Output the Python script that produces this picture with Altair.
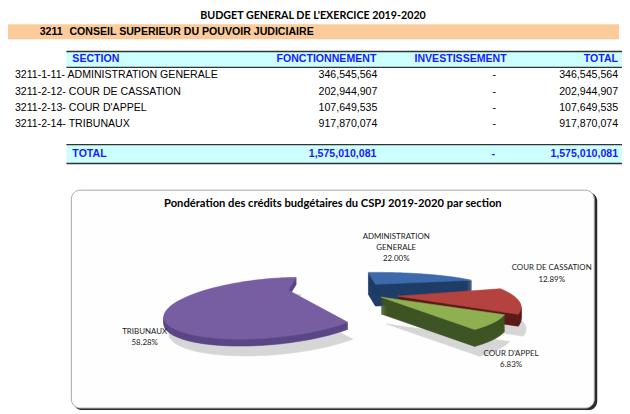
import pandas as pd
import altair as alt

codes = ["3211-1-11-", "3211-2-12-", "3211-2-13-", "3211-2-14-"]
sections = ["ADMINISTRATION GENERALE", "COUR DE CASSATION", "COUR D'APPEL", "TRIBUNAUX"]
fonctionnement = [346545564, 202944907, 107649535, 917870074]
investissement = [0, 0, 0, 0]
total_fonctionnement = 1575010081  # as printed in the source table
pie_labels = ["ADMINISTRATION\nGENERALE", "COUR DE CASSATION", "COUR D'APPEL", "TRIBUNAUX"]

W, H = 620, 404
ARIAL = "Liberation Sans"
CALIBRI = "Lato"
BLUE = "#1a1aff"

table = pd.DataFrame({"code": codes, "section": sections,
                      "fonct": fonctionnement, "invest": investissement})
table["total"] = table["fonct"] + table["invest"]
table["row"] = range(len(table))

totals = pd.DataFrame({"f": [total_fonctionnement], "inv": [sum(investissement)]})
totals["tt"] = totals["f"] + totals["inv"]

pie = pd.DataFrame({"section": sections, "label": pie_labels, "value": table["total"]})
share = pie["value"] / pie["value"].sum()
pie["s1"] = share.cumsum()
pie["s0"] = pie["s1"] - share

# page coordinates -> chart scales (8px page margin)
XS = alt.Scale(domain=[8, 8 + W], nice=False, zero=False)
YS = alt.Scale(domain=[8, 8 + H], nice=False, zero=False, reverse=True)


def v(p):
    return alt.value(p - 8)


def label(s, x, y, size=10.7, bold=False, color="black", align="left", font=ARIAL):
    return alt.Chart().mark_text(text=s, fontSize=size, fontWeight="bold" if bold else "normal",
                                 color=color, align=align, baseline="middle", font=font
                                 ).encode(x=v(x), y=v(y))


def box(x1, y1, x2, y2, **kw):
    return alt.Chart().mark_rect(**kw).encode(x=v(x1), x2=v(x2), y=v(y1), y2=v(y2))


def hline(y, x1, x2, color="#333333", width=1.4):
    return alt.Chart().mark_rule(color=color, strokeWidth=width).encode(x=v(x1), x2=v(x2), y=v(y))


# ---- table ----
layers = [
    label("BUDGET GENERAL DE L'EXERCICE 2019-2020", 316, 14, size=10.8, bold=True, align="center", font=CALIBRI),
    box(3, 22.5, 625, 37.5, color="#fbcb9b"),
    label("3211", 40, 30, bold=True),
    label("CONSEIL SUPERIEUR DU POUVOIR JUDICIAIRE", 70, 30, bold=True),
    box(67, 50, 640, 66, color="#ccffff"),
    hline(50, 67, 640), hline(66, 67, 640),
    label("SECTION", 73, 58, bold=True, color=BLUE),
    label("FONCTIONNEMENT", 380, 58, bold=True, color=BLUE, align="right"),
    label("INVESTISSEMENT", 465, 58, bold=True, color=BLUE, align="center"),
    label("TOTAL", 624, 58, bold=True, color=BLUE, align="right"),
    box(67, 144, 640, 163, color="#ccffff"),
    hline(144, 67, 640), hline(163, 67, 640),
    label("TOTAL", 73, 153, bold=True, color=BLUE),
]

rows = alt.Chart(table).transform_calculate(ry="74 + 16.5 * datum.row")
ry = alt.Y("ry:Q", scale=YS, axis=None)
layers += [
    rows.transform_calculate(t="datum.code + ' ' + datum.section")
        .mark_text(align="left", baseline="middle", fontSize=10.7, font=ARIAL)
        .encode(x=v(15), y=ry, text="t:N"),
    rows.transform_calculate(t="format(datum.fonct, ',')")
        .mark_text(align="right", baseline="middle", fontSize=10.7, font=ARIAL)
        .encode(x=v(381), y=ry, text="t:N"),
    rows.transform_calculate(t="datum.invest == 0 ? '-' : format(datum.invest, ',')")
        .mark_text(align="center", baseline="middle", fontSize=10.7, font=ARIAL)
        .encode(x=v(499), y=ry, text="t:N"),
    rows.transform_calculate(t="format(datum.total, ',')")
        .mark_text(align="right", baseline="middle", fontSize=10.7, font=ARIAL)
        .encode(x=v(624), y=ry, text="t:N"),
]

tot = alt.Chart(totals)
layers += [
    tot.transform_calculate(t="format(datum.f, ',')")
       .mark_text(align="right", baseline="middle", fontSize=10.7, font=ARIAL, fontWeight="bold", color=BLUE)
       .encode(x=v(380), y=v(153), text="t:N"),
    tot.transform_calculate(t="datum.inv == 0 ? '-' : format(datum.inv, ',')")
       .mark_text(align="center", baseline="middle", fontSize=10.7, font=ARIAL, fontWeight="bold", color=BLUE)
       .encode(x=v(498), y=v(153), text="t:N"),
    tot.transform_calculate(t="format(datum.tt, ',')")
       .mark_text(align="right", baseline="middle", fontSize=10.7, font=ARIAL, fontWeight="bold", color=BLUE)
       .encode(x=v(624), y=v(153), text="t:N"),
]

# ---- chart frame ----
layers += [
    alt.Chart().mark_rect(color="#2b2b2b", cornerRadius=9).encode(x=v(74), x2=v(603), y=v(192), y2=v(412)),
    alt.Chart().mark_rect(fill="#fefefe", stroke="#a8a8a8", strokeWidth=1, cornerRadius=9)
       .encode(x=v(72), x2=v(600), y=v(190), y2=v(410)),
    label("Pondération des  crédits budgétaires  du CSPJ 2019-2020 par section", 336, 204,
          size=11.3, bold=True, align="center", font=CALIBRI),
]

# ---- 3D exploded pie (perspective ellipse sectors) ----
N = 72
TH0 = -5 / 360


def pie_part(name, cx, cy, rx, ry, k, sh, dz, color, dx=0):
    return (alt.Chart(pie)
            .transform_filter(alt.datum.section == name)
            .transform_calculate(i=f"sequence(0, {N + 3})")
            .transform_calculate(dz=dz)
            .transform_flatten(["i"])
            .transform_flatten(["dz"])
            .transform_calculate(t=f"clamp(datum.i - 1, 0, {N}) / {N}")
            .transform_calculate(on=f"datum.i >= 1 && datum.i <= {N + 1}")
            .transform_calculate(a=f"2 * PI * ({TH0} + datum.s0 + (datum.s1 - datum.s0) * datum.t)")
            .transform_calculate(X="datum.on ? sin(datum.a) : 0")
            .transform_calculate(Z="datum.on ? cos(datum.a) : 0")
            .transform_calculate(den=f"1 + {k} * datum.Z")
            .transform_calculate(px=f"{cx + dx} + ({rx} * datum.X + {sh * ry} * datum.Z) / datum.den")
            .transform_calculate(py=f"{cy} + datum.dz - {ry} * datum.Z / datum.den")
            .mark_line(fill=color, stroke=color, strokeWidth=0.6)
            .encode(x=alt.X("px:Q", scale=XS, axis=None),
                    y=alt.Y("py:Q", scale=YS, axis=None),
                    order="i:Q", detail="dz:N"))


slices = {
    # name: centre x, centre y, rx, ry, perspective, skew, depth, top colour, side colour
    "ADMINISTRATION GENERALE": (379, 285, 110, 16, 0.333, 0, 22, "#3d6aaa", "#1f3d68"),
    "TRIBUNAUX": (291, 291, 84, 20.6, 0.583, 0.98, 7, "#775da2", "#5a4585"),
    "COUR DE CASSATION": (402, 297, 117, 30, 0.333, 0, 12, "#b4433f", "#5b1b19"),
    "COUR D'APPEL": (385, 298, 120, 29, 0.333, 0, 17, "#8eb050", "#3f5424"),
}

for name in ["TRIBUNAUX", "COUR D'APPEL", "COUR DE CASSATION"]:
    cx, cy, rx, ry_, k, sh, depth, top, side = slices[name]
    layers.append(pie_part(name, cx, cy, rx, ry_, k, sh, f"[{depth + 10}]", "#d6d6d6", dx=5))

for name, (cx, cy, rx, ry_, k, sh, depth, top, side) in slices.items():
    layers.append(pie_part(name, cx, cy, rx, ry_, k, sh, f"sequence(1, {depth + 1})", side))
    layers.append(pie_part(name, cx, cy, rx, ry_, k, sh, "[0]", top))

# ---- pie labels ----
pie_pos = {
    "ADMINISTRATION GENERALE": (400, 238),
    "COUR DE CASSATION": (557, 270),
    "COUR D'APPEL": (516, 356),
    "TRIBUNAUX": (146, 334),
}
for name, (x, y) in pie_pos.items():
    layers.append(
        alt.Chart(pie)
        .transform_joinaggregate(all="sum(value)")
        .transform_filter(alt.datum.section == name)
        .transform_calculate(t="datum.label + '\\n' + format(datum.value / datum.all, '.2%')")
        .mark_text(align="center", baseline="top", fontSize=8, font=CALIBRI, lineBreak="\n",
                   lineHeight=11.5, color="#1a1a1a")
        .encode(x=v(x), y=v(y - 5), text="t:N")
    )

chart = alt.layer(*layers).properties(
    width=W, height=H, padding=0, autosize=alt.AutoSizeParams(type="none"),
).configure_view(stroke=None)

chart.save("out.html", embed_options={"renderer": "svg", "actions": False})
